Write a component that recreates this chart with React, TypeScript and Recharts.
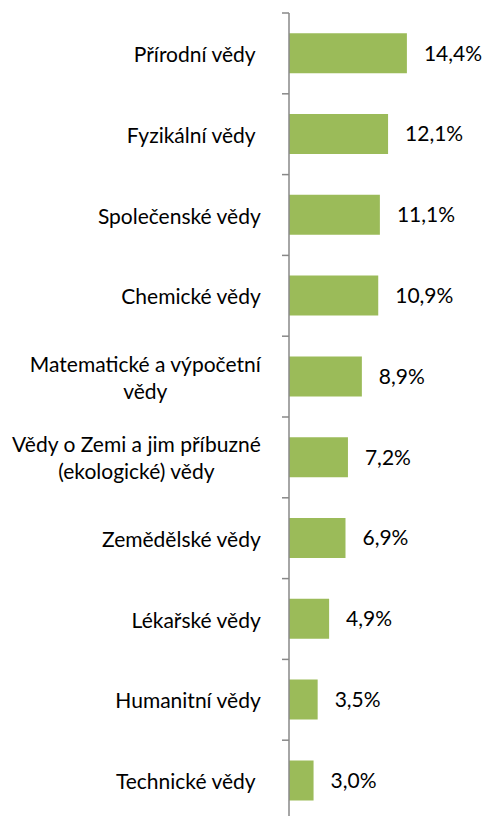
import React from "react";
import { BarChart, Bar, XAxis, YAxis, LabelList } from "recharts";

const categories: string[] = [
  "Přírodní vědy ",
  "Fyzikální vědy ",
  "Společenské vědy",
  "Chemické vědy",
  "Matematické a výpočetní\nvědy",
  "Vědy o Zemi a jim příbuzné\n(ekologické) vědy",
  "Zemědělské vědy",
  "Lékařské vědy",
  "Humanitní vědy",
  "Technické vědy ",
];
const values: number[] = [14.4, 12.1, 11.1, 10.9, 8.9, 7.2, 6.9, 4.9, 3.5, 3.0];

const data = categories.map((c, i) => ({ name: c, value: values[i] }));

const FONT = "Lato";
const FONT_SIZE = 21;
const LINE_H = 27;
const MARGIN_TOP = 13;
const PLOT_H = 808;
const BAND = PLOT_H / categories.length;
const TICK_SIZE = 7;
const TICK_MARGIN = 21;
const AXIS_COLOR = "#888888";

let ctx: CanvasRenderingContext2D | null = null;
function measure(t: string): number {
  if (!ctx) {
    const c = document.createElement("canvas");
    ctx = c.getContext("2d");
  }
  if (!ctx) return t.length * FONT_SIZE * 0.5;
  ctx.font = `${FONT_SIZE}px ${FONT}`;
  return ctx.measureText(t).width;
}

const CategoryTick = (props: any) => {
  const { x, y, payload } = props;
  const lines: string[] = String(payload.value).split("\n");
  const maxW = Math.max(...lines.map(measure));
  const cx = x - maxW / 2;
  const axisX = x + TICK_MARGIN + TICK_SIZE;
  const startY = y - ((lines.length - 1) * LINE_H) / 2;
  return (
    <g>
      <line x1={axisX - TICK_SIZE} x2={axisX} y1={y - BAND / 2} y2={y - BAND / 2} stroke={AXIS_COLOR} strokeWidth={1.5} />
      {lines.map((l, i) => (
        <text
          key={i}
          x={cx}
          y={startY + i * LINE_H}
          textAnchor="middle"
          dominantBaseline="central"
          fontFamily={FONT}
          fontSize={FONT_SIZE}
          fill="#000"
          style={{ whiteSpace: "pre" }}
        >
          {l}
        </text>
      ))}
    </g>
  );
};

const fmt = (v: any) => `${Number(v).toFixed(1).replace(".", ",")}%`;

export default function App() {
  return (
    <div style={{ position: "absolute", left: 0, top: 0, width: 482, height: 816, overflow: "hidden", background: "#fff" }}>
      <BarChart
        width={482}
        height={MARGIN_TOP + PLOT_H + 1}
        data={data}
        layout="vertical"
        margin={{ top: MARGIN_TOP, right: 62, bottom: 1, left: 0 }}
        barCategoryGap="25%"
      >
        <XAxis type="number" domain={[0, 16]} hide />
        <YAxis
          type="category"
          dataKey="name"
          width={289}
          tickLine={false}
          tickSize={TICK_SIZE}
          tickMargin={TICK_MARGIN}
          axisLine={{ stroke: AXIS_COLOR, strokeWidth: 1.5 }}
          tick={<CategoryTick />}
          interval={0}
        />
        <Bar dataKey="value" fill="#9BBB59" isAnimationActive={false}>
          <LabelList
            dataKey="value"
            position="right"
            offset={17}
            formatter={fmt}
            fill="#000"
            fontFamily={FONT}
            fontSize={FONT_SIZE}
          />
        </Bar>
      </BarChart>
    </div>
  );
}
